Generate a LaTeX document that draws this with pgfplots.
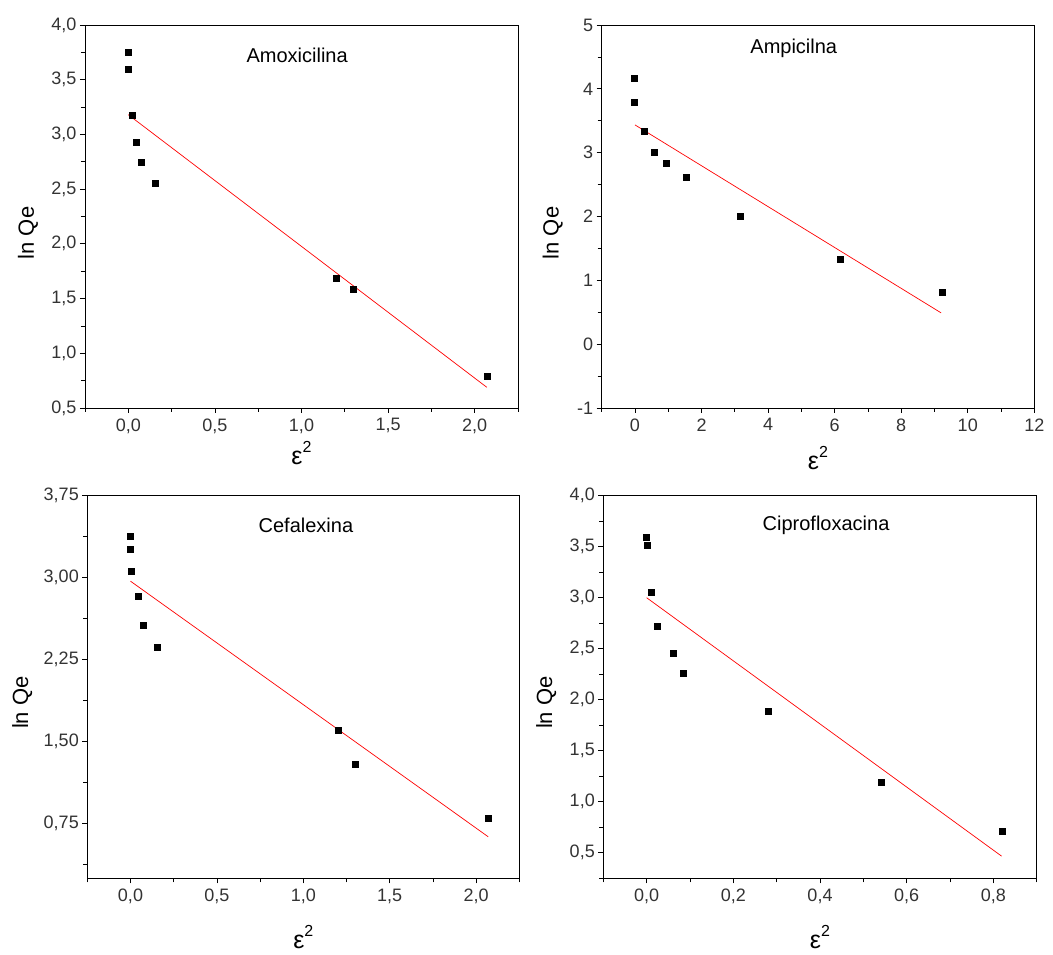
\documentclass[border=0pt]{standalone}
\usepackage{fontspec}
\setmainfont{Liberation Sans}
\usepackage{pgfplots}
\pgfplotsset{compat=1.18}

\newcommand{\epsq}{{\fontsize{25}{25}\selectfont ε}\raisebox{12pt}{\fontsize{16}{16}\selectfont 2}}

\tikzset{ttl/.style={font=\fontsize{20}{20}\selectfont, anchor=center}}

\pgfplotsset{
  dr/.style={
    scale only axis,
    axis line style={line width=0.9pt},
    tick align=outside,
    xtick pos=bottom, ytick pos=left,
    major tick length=5pt, minor tick length=4pt,
    every tick/.style={black, line width=0.8pt},
    tick label style={font=\fontsize{18}{18}\selectfont, text=black!80},
    xticklabel style={yshift=-2pt},
    /pgf/number format/assume math mode=true,
    /pgf/number format/use comma,
    xlabel={\epsq},
    ylabel={ln Qe},
    y label style={font=\fontsize{22}{22}\selectfont},
    clip=false,
  },
  pts/.style={only marks, mark=square*, mark size=3pt, black},
  fit/.style={red, line width=0.7pt},
}

\begin{document}
\begin{tikzpicture}
\path[use as bounding box] (0pt,0pt) rectangle (1053pt,955pt);

% Amoxicilina
\begin{axis}[dr,
  at={(85pt,547pt)}, anchor=south west, width=433pt, height=383pt,
  xmin=-0.25, xmax=2.25, ymin=0.5, ymax=4.0,
  xtick={0,0.5,1,1.5,2}, minor xtick={-0.25,0.25,0.75,1.25,1.75,2.25},
  ytick={0.5,1,1.5,2,2.5,3,3.5,4}, minor ytick={0.75,1.25,1.75,2.25,2.75,3.25,3.75},
  xticklabel style={/pgf/number format/.cd, fixed, fixed zerofill, precision=1},
  yticklabel style={/pgf/number format/.cd, fixed, fixed zerofill, precision=1},
  x label style={at={(axis description cs:0.5,0)}, anchor=base, yshift=-57pt},
  y label style={at={(axis description cs:0,0.457)}, anchor=center, yshift=57pt},
]
\addplot[pts] coordinates {(0,3.75) (0,3.60) (0.02,3.18) (0.048,2.93) (0.077,2.75)
  (0.156,2.555) (1.20,1.687) (1.298,1.587) (2.07,0.795)};
\addplot[fit] coordinates {(0,3.18) (2.07,0.689)};
\node[ttl] at (rel axis cs:0.49,0.92) {Amoxicilina};
\end{axis}

% Ampicilna
\begin{axis}[dr,
  at={(601.7pt,547pt)}, anchor=south west, width=432.6pt, height=383pt,
  xmin=-1, xmax=12, ymin=-1, ymax=5,
  xtick={0,2,4,6,8,10,12}, minor xtick={-1,1,3,5,7,9,11},
  ytick={-1,0,1,2,3,4,5}, minor ytick={-0.5,0.5,1.5,2.5,3.5,4.5},
  x label style={at={(axis description cs:0.5,0)}, anchor=base, yshift=-62pt},
  y label style={at={(axis description cs:0,0.457)}, anchor=center, yshift=49pt},
]
\addplot[pts] coordinates {(-0.03,4.16) (-0.03,3.795) (0.28,3.33) (0.58,3.007) (0.94,2.84)
  (1.55,2.62) (3.17,2.006) (6.17,1.33) (9.22,0.81)};
\addplot[fit] coordinates {(0,3.435) (9.2,0.49)};
\node[ttl] at (rel axis cs:0.444,0.94) {Ampicilna};
\end{axis}

% Cefalexina
\begin{axis}[dr,
  at={(87.3pt,76.7pt)}, anchor=south west, width=432pt, height=382.6pt,
  xmin=-0.25, xmax=2.25, ymin=0.25, ymax=3.75,
  xtick={0,0.5,1,1.5,2}, minor xtick={-0.25,0.25,0.75,1.25,1.75,2.25},
  ytick={0.75,1.5,2.25,3,3.75}, minor ytick={0.375,1.125,1.875,2.625,3.375},
  xticklabel style={/pgf/number format/.cd, fixed, fixed zerofill, precision=1},
  yticklabel style={/pgf/number format/.cd, fixed, fixed zerofill, precision=2},
  x label style={at={(axis description cs:0.5,0)}, anchor=base, yshift=-70pt},
  y label style={at={(axis description cs:0,0.459)}, anchor=center, yshift=65pt},
]
\addplot[pts] coordinates {(0,3.383) (0,3.264) (0.006,3.063) (0.044,2.833) (0.073,2.561)
  (0.153,2.36) (1.20,1.602) (1.30,1.294) (2.07,0.802)};
\addplot[fit] coordinates {(0,2.968) (2.07,0.63)};
\node[ttl] at (rel axis cs:0.506,0.923) {Cefalexina};
\end{axis}

% Ciprofloxacina
\begin{axis}[dr,
  at={(603.3pt,76.7pt)}, anchor=south west, width=433.4pt, height=382.6pt,
  xmin=-0.1, xmax=0.9, ymin=0.25, ymax=4.0,
  xtick={0,0.2,0.4,0.6,0.8}, minor xtick={-0.1,0.1,0.3,0.5,0.7,0.9},
  ytick={0.5,1,1.5,2,2.5,3,3.5,4}, minor ytick={0.25,0.75,1.25,1.75,2.25,2.75,3.25,3.75},
  xticklabel style={/pgf/number format/.cd, fixed, fixed zerofill, precision=1},
  yticklabel style={/pgf/number format/.cd, fixed, fixed zerofill, precision=1},
  x label style={at={(axis description cs:0.5,0)}, anchor=base, yshift=-70pt},
  y label style={at={(axis description cs:0,0.459)}, anchor=center, yshift=57pt},
]
\addplot[pts] coordinates {(-0.002,3.589) (0.002,3.511) (0.01,3.05) (0.0255,2.716) (0.062,2.455)
  (0.085,2.256) (0.281,1.891) (0.541,1.187) (0.82,0.715)};
\addplot[fit] coordinates {(0,3.0) (0.819,0.467)};
\node[ttl] at (rel axis cs:0.514,0.923) {Ciprofloxacina};
\end{axis}
\end{tikzpicture}
\end{document}
